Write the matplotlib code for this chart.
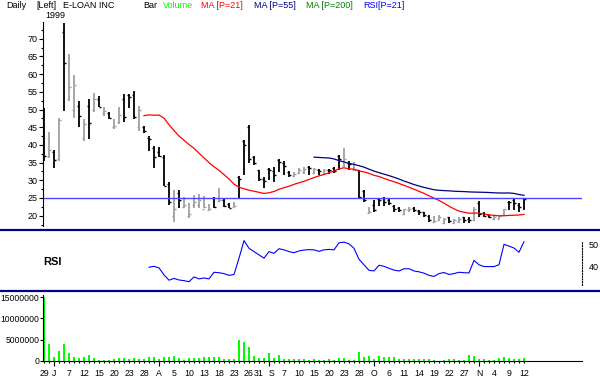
import matplotlib
matplotlib.use('Agg')
import matplotlib.pyplot as plt
import numpy as np
import pandas as pd
from matplotlib.lines import Line2D

plt.rcParams['font.family'] = ['Liberation Sans', 'DejaVu Sans']

# ---------------- data ----------------
highs = [50.5, 43.7, 38.6, 47.5, 74.3, 65.6, 59.7, 52.4, 47.2, 52.9,
         54.8, 53.8, 50.7, 49.4, 47.3, 50.6, 54.5, 54.3, 55.2, 51.0,
         45.4, 42.6, 39.6, 39.4, 37.1, 29.6, 27.2, 27.2, 25.3, 23.7,
         25.8, 26.0, 25.6, 23.4, 25.4, 27.7, 24.9, 23.5, 24.0, 31.2,
         41.4, 45.6, 36.8, 33.0, 30.8, 33.6, 33.8, 35.9, 35.4, 32.6,
         32.4, 33.4, 33.8, 33.9, 33.6, 33.3, 33.1, 33.2, 33.8, 37.1,
         39.0, 35.4, 35.2, 33.0, 27.3, 22.5, 24.4, 24.9, 25.2, 24.9,
         23.0, 22.5, 22.0, 22.4, 22.5, 21.6, 21.1, 20.2, 19.9, 20.2,
         19.3, 19.7, 19.0, 19.7, 19.7, 19.7, 22.5, 24.2, 21.1, 20.2,
         20.2, 20.0, 22.0, 24.2, 24.9, 23.5, 25.0]
lows = [35.5, 36.2, 33.6, 35.5, 49.6, 52.4, 47.5, 45.1, 41.1, 41.6,
        49.4, 50.6, 48.2, 47.2, 44.4, 45.9, 46.6, 50.3, 47.2, 44.0,
        43.5, 38.4, 33.6, 36.5, 28.5, 23.1, 18.3, 22.3, 22.1, 19.3,
        22.3, 22.3, 22.3, 21.5, 22.3, 24.0, 22.5, 22.1, 22.4, 24.9,
        31.5, 34.8, 34.4, 29.8, 27.8, 30.1, 29.6, 32.4, 31.5, 31.0,
        31.0, 31.9, 31.9, 31.5, 31.9, 31.5, 31.5, 31.7, 32.1, 32.9,
        33.8, 32.8, 32.8, 25.0, 24.0, 20.7, 21.1, 22.6, 22.6, 23.0,
        21.1, 21.1, 20.2, 21.1, 21.1, 20.2, 19.5, 18.3, 18.0, 18.5,
        17.6, 17.9, 17.6, 18.0, 18.0, 17.8, 18.4, 19.5, 19.6, 19.3,
        18.8, 19.0, 20.2, 21.6, 21.6, 21.1, 21.6]
opens = [38.0, 37.0, 38.0, 36.0, 72.0, 53.0, 50.0, 51.0, 42.0, 51.0,
         50.0, 53.0, 49.0, 49.0, 45.0, 46.5, 53.0, 54.0, 54.0, 45.0,
         45.0, 42.0, 39.0, 38.0, 36.5, 29.0, 20.0, 26.5, 22.5, 20.0,
         23.0, 23.0, 22.0, 21.5, 25.0, 24.2, 24.5, 23.3, 22.5, 31.0,
         41.0, 45.0, 36.5, 32.8, 30.5, 33.3, 32.5, 35.7, 35.0, 32.3,
         31.2, 32.0, 32.3, 33.7, 32.2, 33.0, 31.7, 33.0, 33.5, 37.0,
         34.0, 35.0, 32.9, 33.0, 27.0, 20.8, 23.0, 24.8, 25.0, 24.5,
         22.8, 22.3, 20.5, 21.5, 22.3, 21.4, 21.0, 20.0, 18.2, 18.7,
         18.0, 19.5, 18.0, 18.5, 19.5, 19.2, 18.8, 23.5, 20.8, 20.1,
         19.2, 19.2, 20.3, 24.0, 24.5, 23.0, 24.9]
closes = [37.0, 38.6, 35.8, 47.0, 63.0, 56.4, 57.0, 48.2, 46.0, 46.3,
          53.0, 50.8, 49.5, 47.5, 45.3, 48.5, 48.0, 53.6, 48.0, 50.0,
          44.0, 41.6, 36.6, 36.8, 28.5, 24.0, 22.0, 24.5, 23.0, 20.5,
          24.0, 24.5, 22.5, 21.8, 22.5, 24.5, 22.6, 22.3, 22.7, 30.5,
          40.0, 36.0, 35.0, 30.5, 29.7, 33.0, 31.5, 35.2, 34.0, 31.5,
          31.8, 33.0, 33.2, 33.5, 33.2, 32.5, 33.0, 32.8, 32.5, 36.0,
          36.0, 34.5, 33.0, 25.3, 24.5, 21.0, 21.5, 24.5, 24.0, 23.5,
          22.0, 21.5, 22.0, 22.0, 21.5, 21.0, 20.2, 18.8, 18.5, 19.5,
          19.2, 18.5, 18.8, 19.2, 18.8, 18.7, 22.0, 20.5, 19.8, 19.6,
          19.6, 19.8, 21.8, 23.8, 23.5, 22.5, 24.6]
volumes_m = [15.0, 4.0, 1.0, 2.35, 4.0, 1.95, 1.0, 0.7, 1.0, 1.4,
             0.7, 0.25, 0.3, 0.3, 0.5, 0.7, 0.7, 0.4, 0.7, 0.5,
             0.5, 1.0, 1.0, 0.5, 0.9, 0.9, 1.2, 0.7, 0.3, 0.7,
             0.7, 0.7, 0.9, 1.0, 1.0, 0.9, 0.5, 0.5, 0.5, 4.9,
             4.4, 3.2, 1.2, 0.7, 0.7, 1.95, 0.7, 1.4, 0.5, 0.4,
             0.4, 0.4, 0.4, 0.3, 0.4, 0.3, 0.3, 0.5, 0.3, 0.7,
             0.7, 0.3, 0.3, 2.1, 1.0, 1.2, 0.5, 1.2, 1.0, 0.9,
             0.9, 0.5, 0.5, 0.4, 0.4, 0.4, 0.5, 0.4, 0.3, 0.1,
             0.3, 0.5, 0.5, 0.3, 0.3, 1.4, 1.2, 0.5, 0.5, 0.3,
             0.3, 0.7, 1.0, 0.7, 0.4, 0.4, 0.7]
rsi_start = 21
rsi_values = [39.9, 40.3, 39.6, 36.4, 34.0, 34.8, 34.1, 33.8, 33.3, 35.5,
              34.6, 35.0, 34.6, 37.6, 37.4, 37.0, 36.2, 36.6, 44.0, 52.0,
              48.5, 47.0, 45.5, 44.0, 47.0, 46.2, 48.3, 47.8, 47.0, 46.5,
              47.3, 47.7, 47.9, 47.8, 47.1, 47.8, 48.0, 47.8, 51.0, 51.3,
              50.5, 48.5, 43.5, 41.0, 38.5, 38.2, 40.8, 40.3, 39.4, 38.6,
              38.2, 39.2, 39.2, 38.2, 37.8, 37.2, 36.2, 35.7, 37.0, 37.5,
              36.6, 37.0, 37.6, 37.4, 37.3, 43.0, 41.0, 40.2, 40.2, 40.2,
              41.0, 50.3, 49.5, 48.6, 46.7, 51.5]
tick_bars = [0, 2, 5, 8, 11, 14, 17, 20, 23, 26, 29, 32, 35, 38, 41, 44, 45,
             48, 51, 54, 57, 60, 63, 66, 69, 72, 75, 78, 81, 84, 87, 90, 93, 96]
tick_labels = ['29', 'J', '7', '12', '15', '20', '23', '28', 'A', '5', '10',
               '13', '18', '23', '26', '31', 'S', '7', '10', '15', '20', '23',
               '28', 'O', '6', '11', '14', '19', '22', '27', 'N', '4', '9', '12']
month_start_bars = [2, 23, 45, 66, 87]
ref_level = 25

# ---------------- figure ----------------
W, H = 600, 380
fig = plt.figure(figsize=(6, 3.8), dpi=100)
fig.patch.set_facecolor('white')


def fx(px):
    return px / W


def fy(py):
    return 1 - py / H


n = len(closes)
idx = np.arange(n)
XMIN, XMAX = -0.2, 107.6

ax_p = fig.add_axes([fx(43), fy(226), (582 - 43) / W, (226 - 22) / H])
ax_r = fig.add_axes([fx(43), fy(289), (582 - 43) / W, (289 - 231) / H])
ax_v = fig.add_axes([fx(43), fy(361), (582 - 43) / W, (361 - 293) / H])

for ax in (ax_p, ax_r, ax_v):
    ax.set_xlim(XMIN, XMAX)
    for s in ax.spines.values():
        s.set_visible(False)
    ax.set_facecolor('none')

# --- price panel
o = np.array(opens); c = np.array(closes)
h = np.array(highs); l = np.array(lows)
cols = np.where(c >= o, '#a0a0a0', '#000000')
ax_p.vlines(idx, l, h, colors=cols, lw=1.3)
ax_p.hlines(o, idx - 0.45, idx, colors=cols, lw=1.0)
ax_p.hlines(c, idx, idx + 0.45, colors=cols, lw=1.0)

s = pd.Series(closes)
ma21 = s.rolling(21).mean()
ma55 = s.rolling(55).mean()
ax_p.plot(idx, ma21, color='#ff0000', lw=0.9)
ax_p.plot(idx, ma55, color='#000080', lw=0.9)
ax_p.axhline(ref_level, color='#4848ff', lw=1.0)

ax_p.set_ylim(17.09, 74.72)
ax_p.spines['left'].set_visible(True)
ax_p.spines['left'].set_color('#000000')
ax_p.spines['left'].set_linewidth(0.8)
ax_p.set_yticks(np.arange(20, 75, 5))
ax_p.set_yticks(np.arange(17.5, 75, 2.5), minor=True)
ax_p.tick_params(axis='y', which='major', length=3, width=0.8, pad=1,
                 labelsize=6.5, direction='out')
ax_p.tick_params(axis='y', which='minor', length=1.5, width=0.8)
ax_p.set_xticks([])

# --- rsi panel
rsi_x = np.arange(rsi_start, rsi_start + len(rsi_values))
ax_r.plot(rsi_x, rsi_values, color='#0000ff', lw=0.8)
ax_r.set_ylim(30, 56.36)
ax_r.set_xticks([])
ax_r.yaxis.tick_right()
ax_r.spines['right'].set_visible(True)
ax_r.spines['right'].set_linestyle((0, (1, 1.5)))
ax_r.spines['right'].set_linewidth(0.8)
ax_r.spines['right'].set_bounds(31.8, 51.5)
ax_r.set_yticks([40, 50])
ax_r.tick_params(axis='y', length=0, pad=5, labelsize=6.5)
fig.text(fx(43), fy(262), 'RSI', fontsize=8, fontweight='bold',
         va='center', ha='left', color='#000000')

# --- volume panel
vol = np.array(volumes_m) * 1e6
ax_v.bar(idx, vol, width=0.4, color='#00ff00', linewidth=0)
ax_v.set_ylim(0, 15.96e6)
ax_v.spines['left'].set_visible(True)
ax_v.spines['left'].set_bounds(0, 15.5e6)
ax_v.spines['left'].set_linewidth(0.8)
ax_v.spines['bottom'].set_visible(True)
ax_v.spines['bottom'].set_linewidth(0.8)
ax_v.set_yticks([0, 5e6, 10e6, 15e6])
ax_v.set_yticklabels(['0', '5000000', '10000000', '15000000'])
ax_v.tick_params(axis='y', length=2, width=0.8, pad=0.5, labelsize=6.2)
ax_v.set_xticks(tick_bars)
ax_v.set_xticklabels(tick_labels)
ax_v.set_xticks(idx, minor=True)
ax_v.tick_params(axis='x', which='major', length=1.5, width=0.8, pad=4.5,
                 labelsize=6.3)
ax_v.tick_params(axis='x', which='minor', length=1.5, width=0.8)
# keep the adjoining "31" and "S" labels from colliding
for lab, t in zip(ax_v.get_xticklabels(), tick_labels):
    pass
xl = ax_v.get_xticklabels()
xl[tick_labels.index('31')].set_horizontalalignment('right')
xl[tick_bars.index(45)].set_horizontalalignment('left')
ax_v.vlines(month_start_bars, -5 / 68, 0, colors='#000000', lw=0.8,
            transform=ax_v.get_xaxis_transform(), clip_on=False)

# --- separators
for yy in (229.5, 291.0):
    fig.add_artist(Line2D([0, 1], [fy(yy), fy(yy)], transform=fig.transFigure,
                          color='#000080', lw=1.6))

# --- header texts
hdr = [(6, 'Daily', '#000000'), (36, '[Left]', '#000000'),
       (63, 'E-LOAN INC', '#000000'), (143, 'Bar', '#000000'),
       (163, 'Volume', '#00ff00'), (201, 'MA [P=21]', '#ff0000'),
       (254, 'MA [P=55]', '#000080'), (306, 'MA [P=200]', '#008000'),
       (363, 'RSI[P=21]', '#0000ff')]
for x, t, col in hdr:
    fig.text(fx(x), fy(6), t, fontsize=6.5, color=col, va='center', ha='left')
fig.text(fx(45), fy(15.5), '1999', fontsize=6.5, color='#000000',
         va='center', ha='left')

fig.savefig('out.png', dpi=100, facecolor='white')
